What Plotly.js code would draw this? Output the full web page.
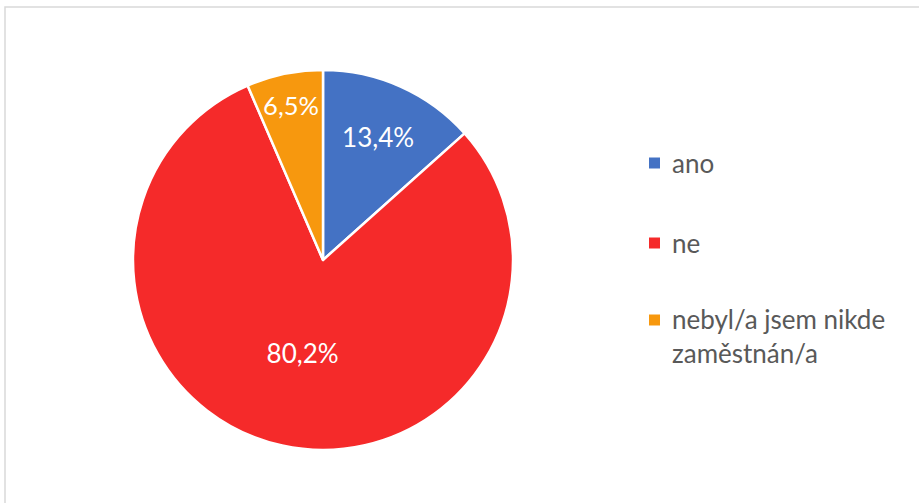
<!DOCTYPE html>
<html><head><meta charset="utf-8">
<script src="https://cdn.plot.ly/plotly-3.0.1.min.js"></script>
<style>html,body{margin:0;padding:0;background:#fff;}</style>
</head><body>
<div id="chart" style="width:919px;height:503px;"></div>
<script>
const categories = ["ano", "ne", "nebyl/a jsem nikde<br>zaměstnán/a"];
const values = [13.4, 80.2, 6.5];
const valueLabels = ["13,4%", "80,2%", "6,5%"];
const colors = ["#4472C4", "#F52A2A", "#F7980E"];

const W = 919, H = 503;
const cx = 323, cy = 260, r = 190;
const FONT = "Lato, 'Open Sans', sans-serif";

const trace = {
  type: "pie",
  labels: categories,
  values: values,
  text: valueLabels,
  texttemplate: "%{text}",
  textinfo: "text",
  textposition: "inside",
  insidetextorientation: "horizontal",
  textfont: {family: FONT, size: 26, color: "#ffffff"},
  sort: false,
  direction: "clockwise",
  rotation: 0,
  marker: {colors: colors, line: {color: "#ffffff", width: 2.5}},
  showlegend: false,
  hoverinfo: "none",
  domain: {x: [(cx - r) / W, (cx + r) / W], y: [1 - (cy + r) / H, 1 - (cy - r) / H]}
};

// custom legend
const legendY = [163, 243, 336];
const annotations = [], shapes = [];
shapes.push({type: "rect", xref: "paper", yref: "paper", x0: 5 / W, x1: 1.02, y0: -0.02, y1: 1 - 7 / H,
  line: {color: "#d9d9d9", width: 1.5}, fillcolor: "rgba(0,0,0,0)"});
categories.forEach((c, i) => {
  const y = legendY[i];
  const sy = i === 2 ? 320 : y;
  shapes.push({type: "rect", xref: "paper", yref: "paper",
    x0: 649 / W, x1: 660 / W, y0: 1 - (sy + 5.5) / H, y1: 1 - (sy - 5.5) / H,
    fillcolor: colors[i], line: {width: 0}});
  annotations.push({xref: "paper", yref: "paper", x: 670 / W, y: 1 - y / H,
    xanchor: "left", yanchor: "middle", align: "left", showarrow: false, text: c,
    font: {family: FONT, size: 26, color: "#595959"}});
});

Plotly.newPlot("chart", [trace], {
  width: W, height: H,
  margin: {l: 0, r: 0, t: 0, b: 0},
  paper_bgcolor: "#ffffff",
  showlegend: false,
  shapes: shapes,
  annotations: annotations
}, {staticPlot: true});
</script>
</body></html>
